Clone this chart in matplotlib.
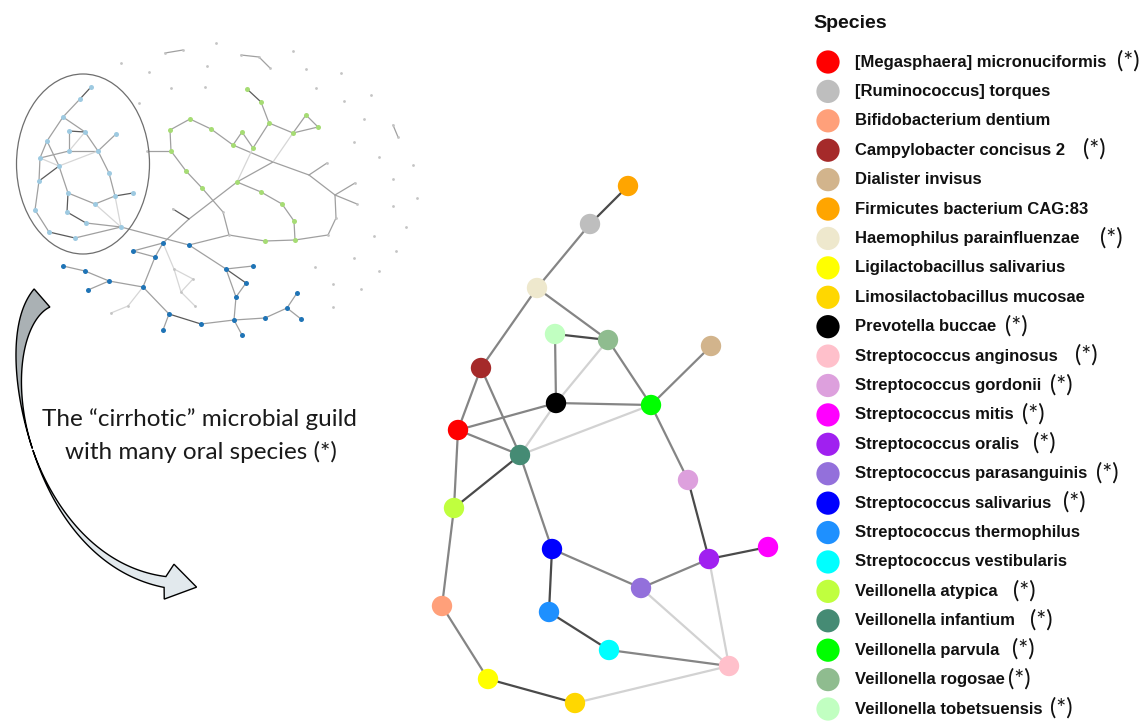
import numpy as np
import matplotlib
matplotlib.use("Agg")
import matplotlib.pyplot as plt
from matplotlib.patches import Ellipse, Polygon

# ---------------- data ----------------
species = ["[Megasphaera] micronuciformis", "[Ruminococcus] torques", "Bifidobacterium dentium",
           "Campylobacter concisus 2", "Dialister invisus", "Firmicutes bacterium CAG:83",
           "Haemophilus parainfluenzae", "Ligilactobacillus salivarius", "Limosilactobacillus mucosae",
           "Prevotella buccae", "Streptococcus anginosus", "Streptococcus gordonii",
           "Streptococcus mitis", "Streptococcus oralis", "Streptococcus parasanguinis",
           "Streptococcus salivarius", "Streptococcus thermophilus", "Streptococcus vestibularis",
           "Veillonella atypica", "Veillonella infantium", "Veillonella parvula",
           "Veillonella rogosae", "Veillonella tobetsuensis"]
oral_flag = [1, 0, 0, 1, 0, 0, 1, 0, 0, 1, 1, 1, 1, 1, 1, 1, 0, 0, 1, 1, 1, 1, 1]
species_colors = ["#ff0000", "#bebebe", "#ffa07a", "#a52a2a", "#d2b48c", "#ffa500", "#eee8cd",
                  "#ffff00", "#ffd700", "#000000", "#ffc0cb", "#dda0dd", "#ff00ff", "#a020f0",
                  "#9370db", "#0000ff", "#1e90ff", "#00ffff", "#c0ff3e", "#458b74", "#00ff00",
                  "#8fbc8f", "#c1ffc1"]
# node positions of the guild network (same order as species)
node_x = [458, 590, 442, 481, 711, 628, 537, 488, 575, 556, 729, 688, 768, 709, 641, 552, 549, 609, 454, 520, 651, 608, 555]
node_y = [430, 224, 606, 368, 346, 186, 288, 679, 703, 403, 666, 480, 547, 559, 588, 549, 612, 650, 508, 455, 405, 340, 334]
# edges: (species i, species j, strength 0 weak / 1 medium / 2 strong)
guild_edges = [
    ("Firmicutes bacterium CAG:83", "[Ruminococcus] torques", 2),
    ("[Ruminococcus] torques", "Haemophilus parainfluenzae", 1),
    ("Haemophilus parainfluenzae", "Campylobacter concisus 2", 1),
    ("Haemophilus parainfluenzae", "Veillonella rogosae", 1),
    ("Veillonella tobetsuensis", "Veillonella rogosae", 2),
    ("Veillonella tobetsuensis", "Prevotella buccae", 1),
    ("Veillonella rogosae", "Prevotella buccae", 0),
    ("Veillonella rogosae", "Veillonella parvula", 1),
    ("Dialister invisus", "Veillonella parvula", 1),
    ("Campylobacter concisus 2", "[Megasphaera] micronuciformis", 1),
    ("Campylobacter concisus 2", "Veillonella infantium", 1),
    ("[Megasphaera] micronuciformis", "Prevotella buccae", 1),
    ("[Megasphaera] micronuciformis", "Veillonella infantium", 1),
    ("Prevotella buccae", "Veillonella infantium", 0),
    ("Prevotella buccae", "Veillonella parvula", 1),
    ("Veillonella infantium", "Veillonella parvula", 0),
    ("Veillonella parvula", "Streptococcus gordonii", 1),
    ("[Megasphaera] micronuciformis", "Veillonella atypica", 1),
    ("Veillonella infantium", "Veillonella atypica", 2),
    ("Veillonella infantium", "Streptococcus salivarius", 1),
    ("Streptococcus gordonii", "Streptococcus oralis", 2),
    ("Streptococcus oralis", "Streptococcus mitis", 2),
    ("Streptococcus oralis", "Streptococcus parasanguinis", 1),
    ("Streptococcus oralis", "Streptococcus anginosus", 0),
    ("Streptococcus salivarius", "Streptococcus parasanguinis", 1),
    ("Streptococcus salivarius", "Streptococcus thermophilus", 2),
    ("Streptococcus parasanguinis", "Streptococcus anginosus", 0),
    ("Streptococcus thermophilus", "Streptococcus vestibularis", 2),
    ("Streptococcus vestibularis", "Streptococcus anginosus", 1),
    ("Veillonella atypica", "Bifidobacterium dentium", 1),
    ("Bifidobacterium dentium", "Ligilactobacillus salivarius", 1),
    ("Ligilactobacillus salivarius", "Limosilactobacillus mucosae", 2),
    ("Limosilactobacillus mucosae", "Streptococcus anginosus", 0),
]
star_x = [1117, None, None, 1083, None, None, 1100, None, None, 1005, 1075, 1050, 1022, 1033,
          1096, 1063, None, None, 1013, 1030, 1012, 1008, 1050]

# ---- overview network (thumbnail) ----
cirrhotic_nodes = {  # light blue guild
    "a1": (91, 87), "a2": (80, 99), "a3": (63, 117), "a4": (69, 131), "a5": (85, 132), "a6": (116, 134),
    "a7": (47, 141), "a8": (69, 151), "a9": (98, 151), "a10": (40, 158), "a11": (59, 166), "a12": (109, 173),
    "a13": (39, 181), "a14": (68, 193), "a15": (115, 196), "a16": (133, 193), "a17": (95, 204),
    "a18": (35, 210), "a19": (67, 212), "a20": (86, 223), "a21": (121, 227), "a22": (49, 232), "a23": (75, 238)}
green_nodes = {
    "g1": (247, 89), "g2": (261, 102), "g3": (269, 123), "g4": (306, 115), "g5": (318, 127), "g6": (293, 133),
    "g7": (242, 132), "g8": (253, 148), "g9": (233, 145), "g10": (211, 129), "g11": (190, 119),
    "g12": (170, 130), "g13": (171, 151), "g14": (186, 171), "g15": (202, 188), "g16": (237, 182),
    "g17": (261, 192), "g18": (282, 204), "g19": (294, 221), "g20": (295, 240), "g21": (265, 241)}
blue_nodes = {
    "b1": (163, 243), "b2": (189, 245), "b3": (133, 251), "b4": (155, 257), "b5": (63, 266), "b6": (85, 271),
    "b7": (109, 281), "b8": (88, 290), "b9": (143, 287), "b10": (226, 269), "b11": (253, 266),
    "b12": (246, 283), "b13": (236, 297), "b14": (297, 293), "b15": (287, 308), "b16": (301, 319),
    "b17": (265, 318), "b18": (234, 320), "b19": (242, 335), "b20": (201, 324), "b21": (169, 314),
    "b22": (163, 330)}
other_nodes = {
    "x1": (147, 151), "x2": (223, 212), "x3": (229, 235), "x4": (327, 163), "x5": (355, 183),
    "x6": (357, 204), "x7": (336, 218), "x8": (328, 235), "x9": (174, 269), "x10": (193, 279),
    "x11": (181, 292), "x12": (195, 306), "x13": (128, 306), "x14": (111, 313), "x15": (173, 209),
    "s1": (165, 53), "s2": (183, 50), "s3": (241, 55), "s4": (259, 57), "s5": (270, 68),
    "s6": (393, 125), "s7": (398, 137)}
junctions = {"j1": (273, 162), "j2": (309, 175), "j3": (335, 195), "j4": (189, 219)}
overview_edges = [
    ("a1", "a2", 2), ("a2", "a3", 1), ("a3", "a5", 1), ("a3", "a7", 1), ("a4", "a5", 2), ("a4", "a8", 1),
    ("a5", "a8", 0), ("a5", "a9", 1), ("a6", "a9", 1), ("a8", "a9", 1), ("a10", "a8", 1), ("a7", "a10", 1),
    ("a7", "a11", 1), ("a11", "a14", 1), ("a10", "a11", 0), ("a11", "a9", 0), ("a10", "a13", 1),
    ("a11", "a13", 2), ("a9", "a12", 1), ("a12", "a15", 1), ("a15", "a16", 2), ("a15", "a21", 0),
    ("a14", "a17", 1), ("a17", "a15", 1), ("a14", "a19", 2), ("a19", "a20", 2), ("a20", "a21", 1),
    ("a17", "a21", 0), ("a13", "a18", 1), ("a18", "a22", 1), ("a22", "a23", 2), ("a23", "a21", 1),
    ("a21", "b2", 1),
    ("g1", "g2", 2), ("g2", "g3", 1), ("g3", "g6", 1), ("g4", "g5", 1), ("g4", "g6", 1), ("g5", "g6", 1),
    ("g3", "g8", 1), ("g7", "g9", 1), ("g7", "g8", 1), ("g10", "g9", 1), ("g9", "j1", 1), ("j1", "j2", 1),
    ("j2", "j3", 1), ("j2", "x4", 1), ("j3", "x5", 1), ("j3", "x6", 1), ("j3", "x7", 1), ("x7", "x8", 1),
    ("x8", "g20", 1), ("g6", "j1", 0), ("j1", "g16", 1), ("g8", "g16", 0), ("g11", "g10", 1),
    ("g12", "g11", 1), ("g12", "g13", 1), ("g13", "x1", 1), ("g13", "g14", 1), ("g14", "g15", 1),
    ("g15", "x2", 1), ("x2", "x3", 1), ("x3", "g21", 1), ("g21", "g20", 1), ("g16", "g17", 1),
    ("g17", "g18", 1), ("g18", "g19", 1), ("g19", "g20", 1), ("g16", "j4", 1), ("j4", "b1", 1),
    ("j4", "x15", 2),
    ("b1", "b3", 1), ("b3", "b4", 1), ("b1", "b4", 1), ("b4", "b9", 1), ("b5", "b6", 1), ("b6", "b7", 1),
    ("b8", "b7", 1), ("b7", "b9", 1), ("b9", "b21", 1), ("b21", "b22", 1), ("b21", "b20", 2),
    ("b20", "b18", 1), ("b18", "b19", 1), ("b18", "b17", 1), ("b17", "b15", 1), ("b15", "b14", 1),
    ("b15", "b16", 1), ("b18", "b13", 1), ("b13", "b10", 1), ("b10", "b12", 2), ("b12", "b13", 1),
    ("b10", "b11", 1), ("b2", "b10", 1), ("b2", "x3", 1), ("b1", "x9", 0), ("x9", "x10", 0),
    ("x10", "x11", 0), ("x9", "x11", 0), ("x11", "x12", 0), ("b9", "x13", 0), ("x13", "x14", 0),
    ("s1", "s2", 1), ("s3", "s4", 1), ("s4", "s5", 1), ("s6", "s7", 1)]
isolated_x = [216, 293, 121, 149, 207, 306, 341, 171, 205, 316, 371, 344, 139, 364, 354, 379, 413, 393,
              417, 393, 406, 374, 396, 354, 315, 379, 333, 361, 333]
isolated_y = [43, 51, 63, 72, 66, 69, 73, 88, 87, 88, 95, 101, 103, 119, 142, 157, 165, 179,
              198, 206, 227, 236, 251, 258, 267, 271, 284, 289, 307]

caption_lines = ["The \u201ccirrhotic\u201d microbial guild", "with many oral species (*)"]

# ---------------- drawing ----------------
fig = plt.figure(figsize=(11.48, 7.23), dpi=100)
ax = fig.add_axes([0, 0, 1, 1])
ax.set_xlim(0, 1148)
ax.set_ylim(723, 0)
ax.axis("off")

# overview network
all_pos = {}
for d in (cirrhotic_nodes, green_nodes, blue_nodes, other_nodes, junctions):
    all_pos.update(d)
small_cols = {0: "#d6d6d6", 1: "#a0a0a0", 2: "#5a5a5a"}
for u, v, s in overview_edges:
    (x0, y0), (x1, y1) = all_pos[u], all_pos[v]
    ax.plot([x0, x1], [y0, y1], color=small_cols[s], lw=0.9, zorder=1, solid_capstyle="round")
ax.scatter(isolated_x, isolated_y, s=4, color="#c4c4c4", lw=0, zorder=2)
ox, oy = zip(*other_nodes.values())
ax.scatter(ox, oy, s=4, color="#c4c4c4", lw=0, zorder=2)
for d, c in ((cirrhotic_nodes, "#9ecae1"), (green_nodes, "#a6dc74"), (blue_nodes, "#1f74b6")):
    xs, ys = zip(*d.values())
    ax.scatter(xs, ys, s=13, color=c, lw=0, zorder=3)
ax.add_patch(Ellipse((83, 164), 133, 180, fill=False, ec="#6e6e6e", lw=0.9, zorder=2))

# curved arrow
P = np.array([[42, 298], [-12, 345], [30, 560], [165, 582]], float)
t = np.linspace(0, 1, 200)[:, None]
C = ((1 - t) ** 3) * P[0] + 3 * ((1 - t) ** 2) * t * P[1] + 3 * (1 - t) * t ** 2 * P[2] + t ** 3 * P[3]
D = 3 * ((1 - t) ** 2) * (P[1] - P[0]) + 6 * (1 - t) * t * (P[2] - P[1]) + 3 * t ** 2 * (P[3] - P[2])
D = D / np.linalg.norm(D, axis=1, keepdims=True)
N = np.column_stack([-D[:, 1], D[:, 0]])
tt = t[:, 0]
w = np.where(tt < 0.5, 12 * np.clip(1 - tt / 0.5, 0, 1) ** 1.8, 5.5 * ((tt - 0.5) / 0.5) ** 1.3)[:, None]
up = tt <= 0.5
lo = tt >= 0.5
top_poly = np.vstack([(C + N * w)[up], (C - N * w)[up][::-1]])
ax.add_patch(Polygon(top_poly, closed=True, fc="#aab1b4", ec="black", lw=1.0, zorder=4))
E = C[-1]
d = D[-1]
n = N[-1]
head = [E + n * 17 + d * 2, E + d * 32, E - n * 19 + d * 6]
low_poly = np.vstack([(C + N * w)[lo], head, (C - N * w)[lo][::-1]])
ax.add_patch(Polygon(low_poly, closed=True, fc="#e2e9ed", ec="black", lw=1.0, zorder=4))

ax.text(199, 419, caption_lines[0], ha="center", va="center", fontsize=17.5,
        family=["Lato", "DejaVu Sans"], color="#1a1a1a", zorder=5)
ax.text(201, 452, caption_lines[1], ha="center", va="center", fontsize=17.5,
        family=["Lato", "DejaVu Sans"], color="#1a1a1a", zorder=5)

# guild network
idx = {s: i for i, s in enumerate(species)}
main_cols = {0: "#d2d2d2", 1: "#858585", 2: "#4a4a4a"}
for u, v, s in guild_edges:
    i, j = idx[u], idx[v]
    ax.plot([node_x[i], node_x[j]], [node_y[i], node_y[j]], color=main_cols[s], lw=1.6, zorder=6)
ax.scatter(node_x, node_y, s=215, c=species_colors, lw=0, zorder=7)

# legend
ax.text(813, 24, "Species", fontsize=14, fontweight="bold", family="Liberation Sans",
        ha="left", va="center", color="#111111")
leg_y = np.linspace(62, 709, len(species))
ax.scatter(np.full(len(species), 828), leg_y, s=280, c=species_colors, lw=0, zorder=7)
for k, name in enumerate(species):
    ax.text(855, leg_y[k], name, fontsize=12, fontweight="bold", family="Liberation Sans",
            ha="left", va="center", color="#111111")
    if oral_flag[k]:
        ax.text(star_x[k], leg_y[k] - 1, "(*)", fontsize=17, family=["Lato", "DejaVu Sans"],
                ha="left", va="center", color="#111111")

fig.savefig("out.png", dpi=100)
